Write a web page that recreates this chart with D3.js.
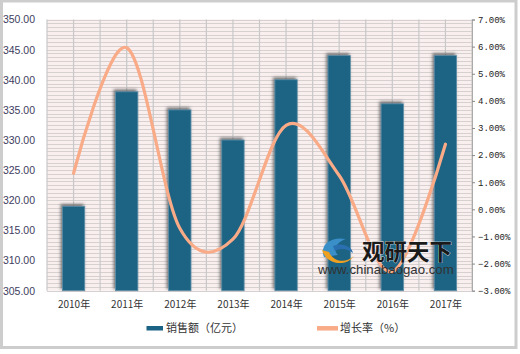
<!DOCTYPE html>
<html>
<head>
<meta charset="utf-8">
<script src="https://cdn.jsdelivr.net/npm/d3@7"></script>
<style>
body { margin: 0; background: #fff; }
</style>
</head>
<body>
<svg width="520" height="354"></svg>
<script>
var years = ['2010年', '2011年', '2012年', '2013年', '2014年', '2015年', '2016年', '2017年'];
var sales = [319, 338, 335, 330, 340, 344, 336, 344];
var growth = [1.33, 5.96, -0.7, -1.1, 3.1, 1.25, -2.3, 2.4];
var leftTicks = [305, 310, 315, 320, 325, 330, 335, 340, 345, 350];
var rightTicks = [-3, -2, -1, 0, 1, 2, 3, 4, 5, 6, 7];
var legendNames = ['销售额（亿元）', '增长率（%）'];

var barColor = '#1b6384';
var lineColor = '#f9aa86';

// plot box (note: "top" is taken by window.top)
var plotLeft = 47, plotRight = 472, plotTop = 19.5, plotBottom = 290.7;
var svg = d3.select('svg');

var x = d3.scaleBand().domain(years).range([plotLeft, plotRight]).paddingInner(0.58).paddingOuter(0.29);
var xc = d3.scalePoint().domain(years).range([plotLeft, plotRight]).padding(0.5);
var y = d3.scaleLinear().domain([305, 350]).range([plotBottom, plotTop]);
var y2 = d3.scaleLinear().domain([-3, 7]).range([plotBottom, plotTop]);

function drawFrame()
{
    svg.append('rect')
        .attr('x', 1.5).attr('y', 1)
        .attr('width', 514.5).attr('height', 346.5)
        .attr('fill', '#fff')
        .attr('stroke', '#cdcdcd')
        .attr('stroke-width', 3);
}

function drawGrid()
{
    var g = svg.append('g');
    g.append('rect')
        .attr('x', plotLeft).attr('y', plotTop)
        .attr('width', plotRight - plotLeft).attr('height', plotBottom - plotTop)
        .attr('fill', '#f9efef');

    // thin horizontal lines
    g.selectAll('line.h')
        .data(d3.range(305, 350.001, 0.625))
        .enter().append('line')
        .attr('class', 'h')
        .attr('x1', plotLeft).attr('x2', plotRight)
        .attr('y1', function(d) { return Math.round(y(d)) + 0.5; })
        .attr('y2', function(d) { return Math.round(y(d)) + 0.5; })
        .attr('stroke', '#d6d0d0')
        .attr('stroke-width', 1);

    // vertical lines at every half category
    var step = (plotRight - plotLeft) / (years.length * 2);
    g.selectAll('line.v')
        .data(d3.range(0, years.length * 2 + 1))
        .enter().append('line')
        .attr('class', 'v')
        .attr('x1', function(d) { return plotLeft + d * step; })
        .attr('x2', function(d) { return plotLeft + d * step; })
        .attr('y1', plotTop).attr('y2', plotBottom)
        .attr('stroke', '#c8c8c8')
        .attr('stroke-width', 1.2);
}

function drawBars()
{
    var defs = svg.append('defs');
    var f = defs.append('filter').attr('id', 'shadow')
        .attr('x', '-50%').attr('y', '-20%').attr('width', '200%').attr('height', '140%');
    f.append('feDropShadow')
        .attr('dx', -1.5).attr('dy', -2)
        .attr('stdDeviation', 1.8)
        .attr('flood-color', '#555')
        .attr('flood-opacity', 0.8);

    svg.append('g').selectAll('rect.bar')
        .data(sales)
        .enter().append('rect')
        .attr('class', 'bar')
        .attr('x', function(d, i) { return x(years[i]); })
        .attr('y', function(d) { return y(d); })
        .attr('width', x.bandwidth())
        .attr('height', function(d) { return plotBottom - y(d); })
        .attr('fill', barColor)
        .attr('stroke', '#5e8fa8')
        .attr('stroke-width', 0.8)
        .attr('filter', 'url(#shadow)');
}

function drawLine()
{
    var line = d3.line()
        .x(function(d, i) { return xc(years[i]); })
        .y(function(d) { return y2(d); })
        .curve(d3.curveCardinal.tension(0));

    svg.append('path')
        .datum(growth)
        .attr('d', line)
        .attr('fill', 'none')
        .attr('stroke', lineColor)
        .attr('stroke-width', 3.2)
        .attr('stroke-linecap', 'round');
}

function drawAxes()
{
    var yl = d3.axisLeft(y).tickValues(leftTicks).tickSize(0).tickPadding(12)
        .tickFormat(d3.format('.2f'));
    var gl = svg.append('g').attr('transform', 'translate(' + plotLeft + ',0)').call(yl);
    gl.select('.domain').remove();
    gl.selectAll('text')
        .attr('font-family', 'Liberation Sans, Arial, sans-serif')
        .attr('font-size', 10.5)
        .attr('fill', '#3d3d60');

    var yr = d3.axisRight(y2).tickValues(rightTicks).tickSize(3).tickPadding(3)
        .tickFormat(function(d) { return d3.format('.2f')(d) + '%'; });
    var gr = svg.append('g').attr('transform', 'translate(' + plotRight + ',0)').call(yr);
    gr.select('.domain').attr('stroke', '#aaa');
    gr.selectAll('.tick line').attr('stroke', '#888');
    gr.selectAll('text')
        .attr('font-family', 'Liberation Mono, DejaVu Sans Mono, monospace')
        .attr('font-size', 9)
        .attr('fill', '#222');

    var xa = d3.axisBottom(xc).tickSize(0).tickPadding(10);
    var gx = svg.append('g').attr('transform', 'translate(0,' + plotBottom + ')').call(xa);
    gx.select('.domain').remove();
    gx.selectAll('text')
        .attr('font-family', 'Noto Sans CJK SC, sans-serif')
        .attr('font-size', 10)
        .attr('fill', '#333');
}

function drawLegend()
{
    var g = svg.append('g').attr('font-family', 'Noto Sans CJK SC, sans-serif').attr('font-size', 11).attr('fill', '#333');
    g.append('rect')
        .attr('x', 146.5).attr('y', 326)
        .attr('width', 16.5).attr('height', 4.5)
        .attr('fill', barColor);
    g.append('text').attr('x', 166).attr('y', 332).text(legendNames[0]);
    g.append('line')
        .attr('x1', 317).attr('x2', 338)
        .attr('y1', 328.3).attr('y2', 328.3)
        .attr('stroke', lineColor).attr('stroke-width', 4.5);
    g.append('text').attr('x', 340).attr('y', 332).text(legendNames[1]);
}

function drawWatermark()
{
    var g = svg.append('g');
    // rough logo swirl
    g.append('path')
        .attr('d', 'M324,257 C319,245 331,236 346,239 C337,242 332,249 338,255 Z')
        .attr('fill', '#3a8fc8');
    g.append('path')
        .attr('d', 'M322,250 C326,264 345,268 354,256 C347,263 334,263 329,252 Z')
        .attr('fill', '#f0a020');
    g.append('path')
        .attr('d', 'M333,246 C341,242 352,246 353,253 C347,248 339,248 335,251 Z')
        .attr('fill', '#2a70b0');
    g.append('text')
        .attr('x', 362).attr('y', 260)
        .attr('font-family', 'Noto Sans CJK SC, sans-serif')
        .attr('font-weight', 'bold')
        .attr('font-size', 22.5)
        .attr('fill', '#1a1a1a')
        .attr('stroke', '#fff').attr('stroke-width', 0.6)
        .attr('paint-order', 'stroke')
        .text('观研天下');
    g.append('text')
        .attr('x', 318).attr('y', 274)
        .attr('font-family', 'Liberation Sans, Arial, sans-serif')
        .attr('font-size', 13.2)
        .attr('fill', '#333')
        .text('www.chinabaogao.com');
}

function setup()
{
    drawFrame();
    drawGrid();
    drawBars();
    drawLine();
    drawAxes();
    drawLegend();
    drawWatermark();
}

setup();
</script>
</body>
</html>
